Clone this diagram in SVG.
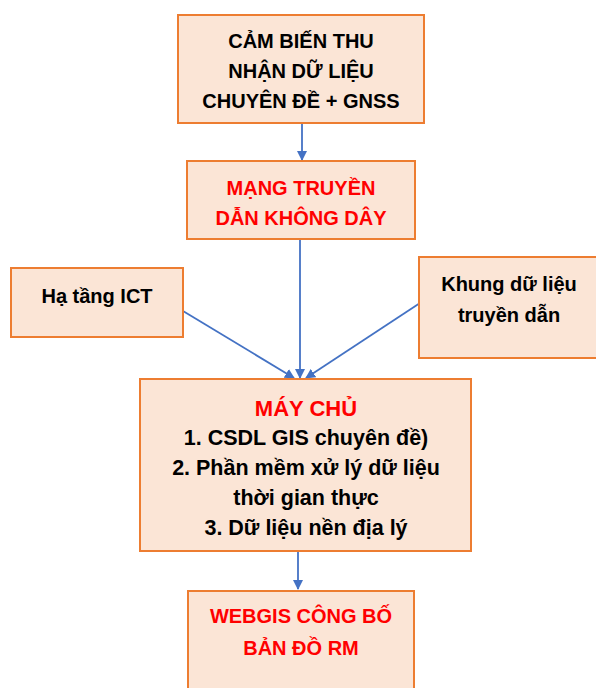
<svg xmlns="http://www.w3.org/2000/svg" width="596" height="688" viewBox="0 0 596 688">
<style>
.box{fill:#FBE5D6;stroke:#ED7D31;stroke-width:2}
.t{font-family:"Liberation Sans",Arial,sans-serif;font-weight:bold;font-size:20px;fill:#000;text-anchor:middle}
.r{fill:#FF0000}
.c{stroke:#4472C4;stroke-width:1.8;fill:none;marker-end:url(#ah)}
</style>
<defs>
<marker id="ah" markerWidth="10" markerHeight="10" refX="9" refY="5" orient="auto" markerUnits="userSpaceOnUse">
<path d="M0,0 L10,5 L0,10 Z" fill="#4472C4"/>
</marker>
</defs>
<rect width="596" height="688" fill="#fff"/>
<g id="connectors">
<line class="c" x1="302" y1="123" x2="302" y2="160"/>
<line class="c" x1="300" y1="239" x2="300" y2="378"/>
<line class="c" x1="183" y1="311" x2="294" y2="378"/>
<line class="c" x1="420" y1="303" x2="306" y2="378"/>
<line class="c" x1="298" y1="552" x2="298" y2="589"/>
</g>
<g id="sensor">
<rect class="box" x="178" y="15" width="246" height="108"/>
<text class="t" x="301" y="48">CẢM BIẾN THU</text>
<text class="t" x="301" y="78">NHẬN DỮ LIỆU</text>
<text class="t" x="301" y="108">CHUYÊN ĐỀ + GNSS</text>
</g>
<g id="network">
<rect class="box" x="187" y="161" width="228" height="78"/>
<text class="t r" x="301" y="195">MẠNG TRUYỀN</text>
<text class="t r" x="301" y="225">DẪN KHÔNG DÂY</text>
</g>
<g id="ict">
<rect class="box" x="11" y="268" width="172" height="69"/>
<text class="t" x="97" y="303">Hạ tầng ICT</text>
</g>
<g id="frame">
<rect class="box" x="419" y="257" width="178" height="101"/>
<text class="t" x="509" y="291">Khung dữ liệu</text>
<text class="t" x="509" y="322">truyền dẫn</text>
</g>
<g id="server">
<rect class="box" x="140" y="379" width="331" height="172"/>
<text class="t r" x="306" y="416" style="font-size:22px">MÁY CHỦ</text>
<text class="t" x="306" y="445" style="font-size:21.5px">1. CSDL GIS chuyên đề)</text>
<text class="t" x="306" y="475" style="font-size:21.5px">2. Phần mềm xử lý dữ liệu</text>
<text class="t" x="306" y="505" style="font-size:21.5px">thời gian thực</text>
<text class="t" x="306" y="535" style="font-size:21.5px">3. Dữ liệu nền địa lý</text>
</g>
<g id="webgis">
<rect class="box" x="188" y="591" width="226" height="100"/>
<text class="t r" x="301" y="623">WEBGIS CÔNG BỐ</text>
<text class="t r" x="301" y="655">BẢN ĐỒ RM</text>
</g>
</svg>
